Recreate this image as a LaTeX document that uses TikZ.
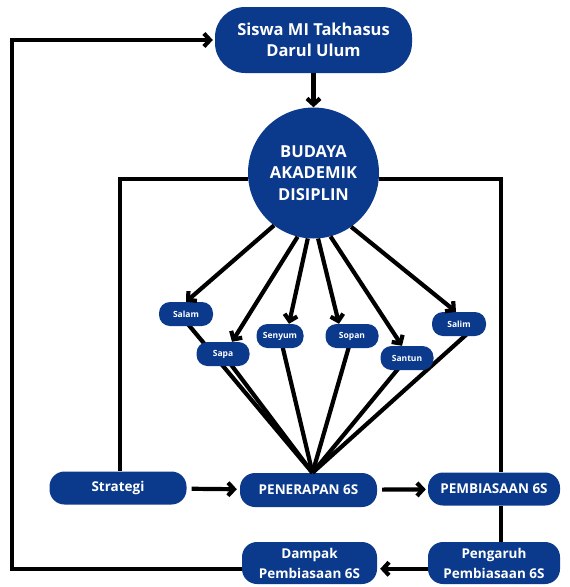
\documentclass[tikz,border=0pt]{standalone}
\usepackage{fontspec}
\usepackage{tikz}
\usetikzlibrary{arrows.meta}
\usetikzlibrary{shapes,positioning,calc}
\newfontfamily\boxfont{Open Sans}
\definecolor{navy}{HTML}{0B3A8C}
\tikzset{
  box/.style = {fill=navy, text=white, inner sep=0pt, align=center, font=\boxfont\bfseries},
  bigbox/.style = {box, rounded corners=30pt, minimum width=197pt, minimum height=66pt, font=\boxfont\bfseries\fontsize{16.5}{21}\selectfont},
  tinybox/.style = {box, rounded corners=11pt, minimum height=24pt, font=\boxfont\bfseries\fontsize{8.5}{9}\selectfont},
  flowbox/.style = {box, rounded corners=15pt, minimum width=135pt, minimum height=33pt, font=\boxfont\bfseries\fontsize{13.5}{20}\selectfont},
  link/.style = {line width=4.2pt}
}
\begin{document}
\begin{tikzpicture} [x=1pt, y=-1pt, >={Straight Barb[length=6pt,width=13pt]}]
     \useasboundingbox (0,0) rectangle (570,587);
     \coordinate (lft) at (12,0);
     \coordinate (rgt) at (501,0);

     \node [bigbox] (siswa) at (313.5,40) {Siswa MI Takhasus\\Darul Ulum};
     \node [box, circle, minimum size=131pt, font=\boxfont\bfseries\fontsize{16.5}{21.5}\selectfont] (budaya) at (313.5,173) {BUDAYA\\AKADEMIK\\DISIPLIN};

     \node [flowbox, minimum width=137pt] (strategi) at (118,488) {Strategi};
     \node [flowbox, minimum width=137pt, minimum height=34pt] (penerapan) at (308.5,490) {PENERAPAN 6S};
     \node [flowbox, minimum width=132pt] (pembiasaan) at (494,489) {PEMBIASAAN 6S};
     \node [flowbox, minimum height=42pt] (dampak) at (309.5,563) {Dampak\\Pembiasaan 6S};
     \node [flowbox, minimum width=132pt, minimum height=42pt] (pengaruh) at (494,563) {Pengaruh\\Pembiasaan 6S};

     \coordinate (temu) at ([xshift=4pt]penerapan.north);
     \draw [link] (187,323) -- (temu);
     \draw [link] (223,354) -- (temu);
     \draw [link] (280,336) -- (temu);
     \draw [link] (352,336) -- (temu);
     \draw [link] (407,358) -- (temu);
     \draw [link] (467,334) -- (temu);

     \node [tinybox, minimum width=54pt] (salam) at (186,314) {Salam};
     \node [tinybox, minimum width=53pt] (sapa) at (223,354) {Sapa};
     \node [tinybox, minimum width=47pt] (senyum) at (280,336) {Senyum};
     \node [tinybox, minimum width=53pt] (sopan) at (352,336) {Sopan};
     \node [tinybox, minimum width=53pt] (santun) at (407,358) {Santun};
     \node [tinybox, minimum width=54pt] (salim) at (459,324) {Salim};

     \draw [link, ->] (siswa) -- (budaya);
     \draw [link, ->] (budaya.233) -- (salam.north);
     \draw [link, ->] (budaya.256) -- ([xshift=9pt]sapa.north);
     \draw [link, ->] (budaya.265) -- ([xshift=9pt]senyum.north);
     \draw [link, ->] (budaya.274) -- ([xshift=-13pt]sopan.north);
     \draw [link, ->] (budaya.285) -- ([xshift=-5pt]santun.north);
     \draw [link, ->] (budaya.305) -- ([xshift=-3pt]salim.north);

     \draw [link] (budaya.185) -| ([xshift=2pt]strategi.north);
     \draw [link] (budaya.355) -- (budaya.355 -| rgt) -- (rgt |- pembiasaan.north);
     \draw [link] (rgt |- pembiasaan.south) -- (rgt |- pengaruh.north);

     \draw [link, ->, shorten <=5pt, shorten >=3pt] (strategi) -- (penerapan);
     \draw [link, ->, shorten <=5pt, shorten >=2pt] (penerapan) -- (pembiasaan);
     \draw [link, ->, shorten >=3pt] (pengaruh.185) -- (pengaruh.185 -| dampak.east);
     \draw [link, ->, shorten >=2pt] (dampak.185) -- (dampak.185 -| lft) |- (siswa.west);
\end{tikzpicture}
\end{document}
